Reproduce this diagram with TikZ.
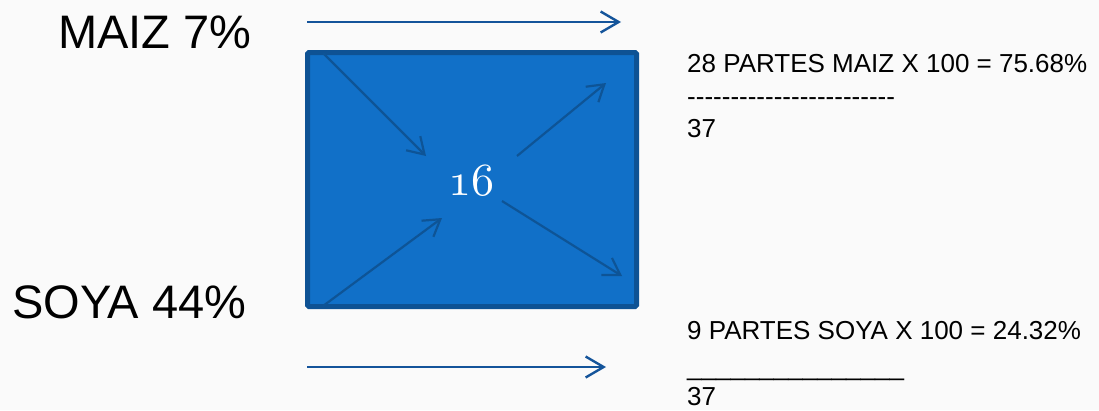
\documentclass[tikz,border=0pt]{standalone}
\usepackage{fontspec}
\setmainfont{Liberation Sans}
% plain family: no TeX ligatures, so a run of hyphens stays a run of hyphens
\newfontfamily\plainsans{Liberation Sans}
% old-style figures for the total inside the square
\font\oldfig=cmmi10 at 46pt
\usetikzlibrary{arrows.meta}
\definecolor{paper}{RGB}{250,250,250}
\definecolor{boxfill}{RGB}{17,112,200}
\definecolor{boxedge}{RGB}{14,82,148}
\definecolor{flow}{RGB}{20,84,154}
\definecolor{innerflow}{RGB}{14,84,150}
\tikzset{
  bigtag/.style={anchor=base west, inner sep=0pt, font=\fontsize{47}{50}\selectfont},
  calc/.style={anchor=base west, inner sep=0pt, font=\plainsans\fontsize{26}{28}\selectfont},
  feed/.style={draw=flow, line width=2.4pt, -{Straight Barb[length=18pt,width=21pt]}},
  mix/.style={draw=innerflow, line width=2.2pt, -{Straight Barb[length=16pt,width=20pt]}},
}
\begin{document}
\begin{tikzpicture}[x=1pt,y=-1pt]
  \fill[paper] (0,0) rectangle (1099,410);
  \useasboundingbox (0,0) rectangle (1099,410);

  % mixing square
  \draw[boxedge, fill=boxfill, line width=5pt, rounded corners=1.5pt]
    (307.5,52.5) rectangle (636.5,306.5);
  \node[text=white, font=\oldfig, inner sep=0pt, anchor=base]
    (total) at (471,195) {16};

  % ingredient labels
  \node[bigtag] (maiz) at (58,48) {MAIZ 7\%};
  \node[bigtag] (soya) at (12,318) {SOYA 44\%};

  % feed arrows outside the square
  \coordinate (t0) at (307,22);
  \coordinate (t1) at (621,22);
  \coordinate (b0) at (307,367);
  \coordinate (b1) at (606,367);
  \draw[feed] (t0) -- (t1);
  \draw[feed] (b0) -- (b1);

  % diagonal arrows inside the square
  \coordinate (d1a) at (323,53);
  \coordinate (d1b) at (426,156);
  \coordinate (d2a) at (517,156);
  \coordinate (d2b) at (606,83);
  \coordinate (d3a) at (323,306);
  \coordinate (d3b) at (442,218);
  \coordinate (d4a) at (502,201);
  \coordinate (d4b) at (622,276);
  \draw[mix] (d1a) -- (d1b);
  \draw[mix] (d2a) -- (d2b);
  \draw[mix] (d3a) -- (d3b);
  \draw[mix] (d4a) -- (d4b);

  % calculations
  \node[calc] (mz) at (687,72) {28 PARTES MAIZ X 100 = 75.68\%};
  \node[calc] (mzline) at (687,105) {------------------------};
  \node[calc] (mzden) at (687,137) {37};
  \node[calc] (sy) at (687,339) {9 PARTES SOYA X 100 = 24.32\%};
  \node[calc] (syline) at (687,375) {\_\_\_\_\_\_\_\_\_\_\_\_\_\_\_};
  \node[calc] (syden) at (687,405) {37};
\end{tikzpicture}
\end{document}
